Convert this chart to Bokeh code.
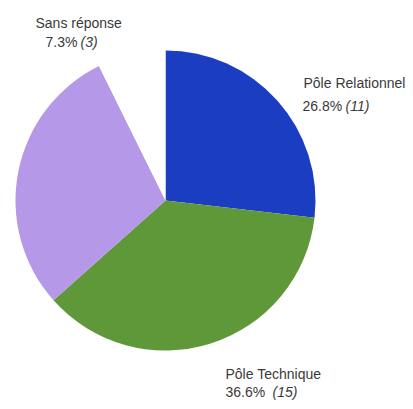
import math
from bokeh.plotting import figure
from bokeh.models import Range1d, ColumnDataSource
from bokeh.core.properties import value
from bokeh.embed import file_html
from bokeh.resources import INLINE

# ---- data ----
categories = ["Pôle Relationnel", "Pôle Technique", "", "Sans réponse"]
counts = [11, 15, 12, 3]
percent_labels = ["26.8%", "36.6%", "29.3%", "7.3%"]
count_labels = ["(11)", "(15)", "(12)", "(3)"]
colors = ["#1b3dc2", "#5e9838", "#b698e8", "#ffffff"]

# ---- layout (pixel-like data units, y up) ----
W, H = 405, 401
cx, cy, R = 165, H - 200, 150

total = sum(counts)
starts, ends = [], []
cum = 0
for c in counts:
    starts.append(math.pi / 2 - 2 * math.pi * cum / total)
    cum += c
    ends.append(math.pi / 2 - 2 * math.pi * cum / total)

src = ColumnDataSource(dict(start=starts, end=ends, color=colors, cat=categories, n=counts))

p = figure(width=W, height=H, output_backend="svg", toolbar_location=None,
           x_range=Range1d(0, W), y_range=Range1d(0, H), min_border=0,
           outline_line_color=None)
p.axis.visible = False
p.grid.visible = False
p.background_fill_color = "white"
p.border_fill_color = "white"

p.wedge(x=cx, y=cy, radius=R, start_angle="start", end_angle="end",
        direction="clock", fill_color="color", line_color=None, source=src)

# label anchors in picture pixels (left x, baseline y from top)
name_pos = {0: (303, 82), 1: (225, 373), 3: (35, 22)}
pct_pos = {0: (302, 105), 1: (225, 391), 3: (45, 41)}
cnt_x = {0: 345, 1: 272, 3: 80}

font = value("Liberation Sans")
col = "#3a3a3a"
fs = "14px"
for i in [0, 1, 3]:
    nx, ny = name_pos[i]
    px, py = pct_pos[i]
    p.text(x=[nx], y=[H - ny], text=[categories[i]], text_font=font, text_font_size=fs,
           text_color=col, text_align="left", text_baseline="alphabetic")
    p.text(x=[px], y=[H - py], text=[percent_labels[i]], text_font=font, text_font_size=fs,
           text_color=col, text_align="left", text_baseline="alphabetic")
    p.text(x=[cnt_x[i]], y=[H - py], text=[count_labels[i]], text_font=font, text_font_size=fs,
           text_font_style="italic", text_color=col, text_align="left", text_baseline="alphabetic")

open("out.html", "w").write(file_html(p, INLINE))
